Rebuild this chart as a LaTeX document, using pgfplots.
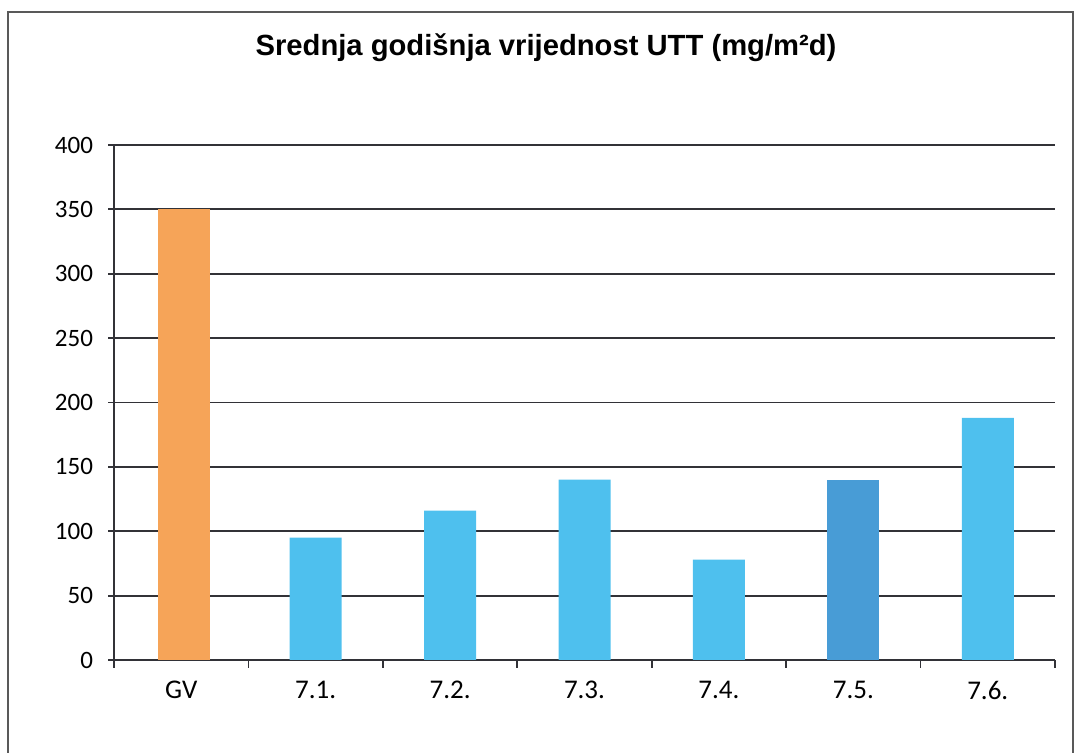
\documentclass[border=0pt]{standalone}
\usepackage{pgfplots}
\pgfplotsset{compat=1.18}
\usepackage{fontspec}
\setmainfont{Carlito}
\newfontfamily\arial{Liberation Sans}
\definecolor{gvorange}{RGB}{246,164,88}
\definecolor{barblue}{RGB}{78,192,238}
\definecolor{bardark}{RGB}{72,156,214}
\definecolor{gridc}{RGB}{50,50,55}
\begin{document}
\begin{tikzpicture}
\useasboundingbox (0,0) rectangle (537.5pt,376.5pt);
\begin{axis}[
  at={(57pt,46.5pt)}, anchor=south west,
  scale only axis, width=470.5pt, height=257.5pt,
  xmin=-0.5, xmax=6.5, ymin=0, ymax=400,
  ytick={0,50,...,400},
  xtick={0,...,6},
  xticklabels={GV,7.1.,7.2.,7.3.,7.4.,7.5.,7.6.},
  minor xtick={-0.5,0.5,...,6.5},
  major x tick style={draw=none},
  minor tick length=4pt, major tick length=3pt,
  tick align=outside,
  axis x line*=bottom, axis y line*=left,
  axis line style={gridc, line width=0.9pt, -},
  every tick/.style={gridc, line width=0.9pt},
  ymajorgrids, major grid style={gridc, line width=0.9pt},
  yticklabel style={font=\fontsize{12.5}{14}\selectfont, black, xshift=-4pt},
  xticklabel style={font=\fontsize{13.5}{15}\selectfont, black, yshift=-4pt},
  /pgf/number format/assume math mode=true,
  ybar, bar width=26pt,
  clip=false,
]
\addplot[fill=gvorange, draw=none, bar shift=1.5pt] coordinates {(0,350)};
\addplot[fill=barblue, draw=none, bar shift=0pt] coordinates {(1,95) (2,116) (3,140) (4,78) (6,188)};
\addplot[fill=bardark, draw=none, bar shift=0pt] coordinates {(5,140)};
\end{axis}
\node[font=\arial\bfseries\fontsize{14.6}{17}\selectfont] at (273pt,352.5pt) {Srednja godišnja vrijednost UTT (mg/m²d)};
\draw[gray!70!black, line width=0.8pt] (4pt,0pt) -- (4pt,370.5pt) -- (536.5pt,370.5pt) -- (536.5pt,0pt);
\end{tikzpicture}
\end{document}
